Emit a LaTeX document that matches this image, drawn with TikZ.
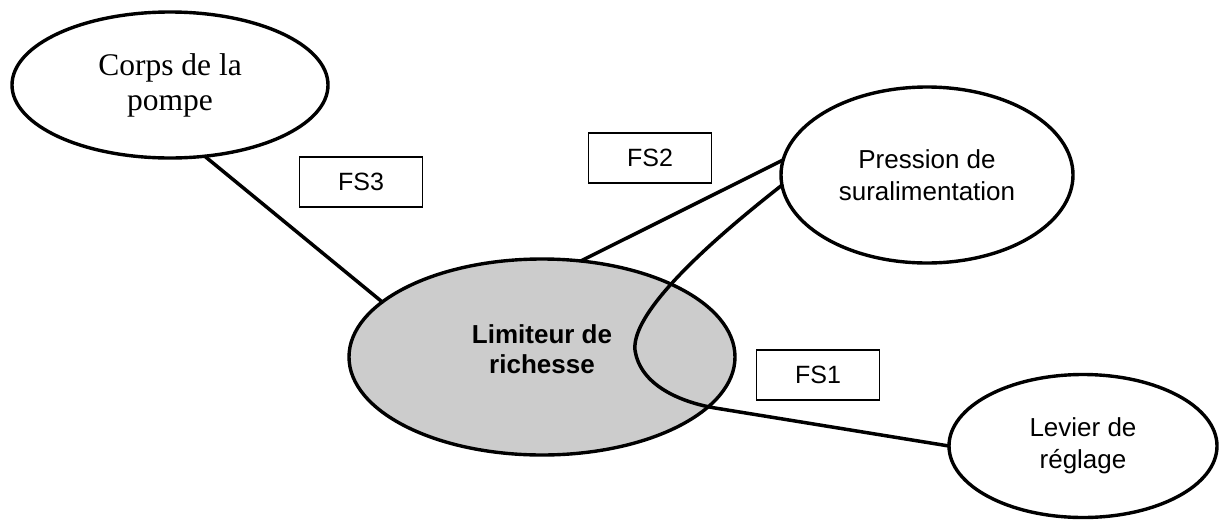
\documentclass[tikz,border=0pt]{standalone}
\usepackage{fontspec}
\setmainfont{Liberation Serif}
\setsansfont{Liberation Sans}
\usetikzlibrary{shapes.geometric}
\begin{document}
\begin{tikzpicture}[x=1pt,y=-1pt,
  blob/.style={ellipse,draw=black,line width=3.4pt,inner sep=0pt,outer sep=0pt,align=center},
  sanstext/.style={font=\sffamily\fontsize{26}{32}\selectfont},
  fsbox/.style={draw=black,line width=1.6pt,minimum width=123pt,minimum height=50pt,inner sep=0pt,font=\sffamily\fontsize{25}{30}\selectfont},
  link/.style={line width=3.5pt,line cap=round,line join=round}]
\useasboundingbox (0,0) rectangle (1224,520);
\node[blob,minimum width=316pt,minimum height=146pt,font=\rmfamily\fontsize{31.5}{35}\selectfont] (corps) at (170,85) {Corps de la\\pompe};
\node[blob,sanstext,minimum width=292pt,minimum height=176pt] (pression) at (927,175) {Pression de\\suralimentation};
\node[blob,fill=black!20,minimum width=386pt,minimum height=196pt,text depth=16pt,font=\sffamily\bfseries\fontsize{26}{30}\selectfont] (limiteur) at (542,357) {Limiteur de\\richesse};
\node[blob,sanstext,minimum width=268pt,minimum height=143pt] (levier) at (1083,446) {Levier de\\réglage};
\node[fsbox] (fs3) at (361,182) {FS3};
\node[fsbox] (fs2) at (650,158) {FS2};
\node[fsbox] (fs1) at (818,375) {FS1};
\draw[link] (corps.-64) -- (limiteur.161);
\draw[link] (limiteur.68) -- (pression.174);
\draw[link] (pression.184) .. controls (680,265) and (632,320) .. (635,350) .. controls (640,385) and (680,402) .. (715,408) -- (levier.180);
\end{tikzpicture}
\end{document}
